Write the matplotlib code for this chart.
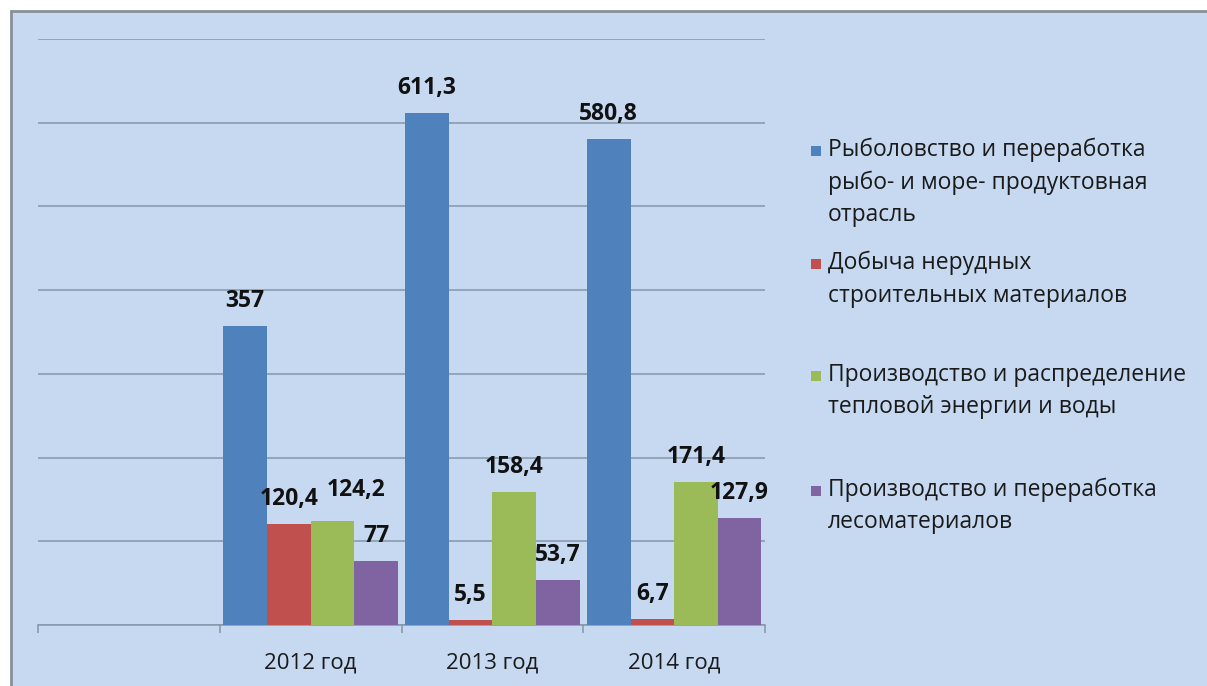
import matplotlib
matplotlib.use("Agg")
import matplotlib.pyplot as plt
from matplotlib.patches import Rectangle
import numpy as np

plt.rcParams['font.family'] = ['Open Sans', 'DejaVu Sans']

categories = ["", "2012 год", "2013 год", "2014 год"]
series_names = [
    "Рыболовство и переработка\nрыбо- и море- продуктовная\nотрасль",
    "Добыча нерудных\nстроительных материалов",
    "Производство и распределение\nтепловой энергии и воды",
    "Производство и переработка\nлесоматериалов",
]
fish = [None, 357, 611.3, 580.8]
mining = [None, 120.4, 5.5, 6.7]
energy = [None, 124.2, 158.4, 171.4]
wood = [None, 77, 53.7, 127.9]
series = [fish, mining, energy, wood]
colors = ["#4F81BD", "#C0504D", "#9BBB59", "#8064A2"]

W, H = 1207, 686
fig = plt.figure(figsize=(W / 100, H / 100), dpi=100, facecolor="white")
bg = "#C6D9F1"
fig.patches.append(Rectangle((11 / W, -0.1), 1.2, 1.1 - 11 / H, transform=fig.transFigure,
                             facecolor=bg, edgecolor="#8a8f96", linewidth=2, zorder=-5))

ax = fig.add_axes([38 / W, (H - 625) / H, (765 - 38) / W, (625 - 39) / H])
ax.set_zorder(2)
ax.set_facecolor("none")
ax.set_xlim(-0.5, 3.5)
ax.set_ylim(0, 700)

# label nudges (pixels) where the original moved a label to avoid overlap
nudge = {(2, 1): (24, 25)}

bw = 0.24
x = np.arange(len(categories))
for i, (vals, col) in enumerate(zip(series, colors)):
    idx = [k for k, v in enumerate(vals) if v is not None]
    xs = x[idx] + (i - 1.5) * bw
    hs = [vals[k] for k in idx]
    ax.bar(xs, hs, width=bw, color=col, zorder=3, linewidth=0)
    for k, xx, hh in zip(idx, xs, hs):
        lab = ("%g" % hh).replace(".", ",")
        off = nudge.get((i, k), (0, 19))
        ax.annotate(lab, (xx, hh), xytext=off, textcoords="offset pixels",
                    ha="center", va="baseline", fontsize=16.5, fontweight="bold",
                    color="#111111", zorder=5)

ax.set_yticks(np.arange(0, 701, 100))
ax.yaxis.grid(True, color="#8496a9", linewidth=1.1, zorder=1)
ax.tick_params(axis="y", left=False, labelleft=False)
ax.set_xticks(np.arange(-0.5, 3.6, 1.0), minor=False)
ax.set_xticklabels([])
ax.set_xticks(x, minor=True)
ax.set_xticklabels(categories, minor=True, fontsize=16, color="#1a1a1a")
ax.tick_params(axis="x", which="major", direction="out", length=6, color="#8496a9", width=1.1)
ax.tick_params(axis="x", which="minor", length=0, pad=20)
for s in ["top", "right", "left"]:
    ax.spines[s].set_visible(False)
ax.spines["bottom"].set_color("#8496a9")
ax.spines["bottom"].set_linewidth(1.1)

# legend
tops = [150, 263, 375, 490]
step = 32.5
for name, col, ty in zip(series_names, colors, tops):
    fig.patches.append(Rectangle((811 / W, 1 - (ty + 6) / H), 10 / W, 10 / H,
                                 transform=fig.transFigure, facecolor=col, edgecolor="none", zorder=3))
    for j, line in enumerate(name.split("\n")):
        fig.text(828 / W, 1 - (ty + j * step) / H, line, fontsize=16.5, color="#1a1a1a",
                 ha="left", va="center")

fig.savefig("out.png", dpi=100, facecolor="white")
